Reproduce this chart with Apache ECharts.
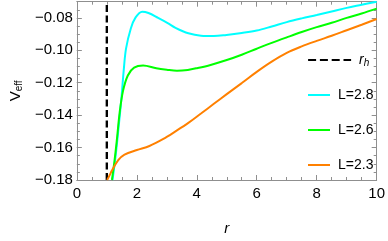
<!DOCTYPE html>
<html><head><meta charset="utf-8">
<script src="https://cdn.jsdelivr.net/npm/echarts@6/dist/echarts.min.js"></script>
<style>html,body{margin:0;padding:0;background:#fff}#c{width:388px;height:241px}</style>
</head><body><div id="c"></div>
<script>
// ---- data ----
const rhName = 'r_h';
const rhR = [1, 1];
const rhV = [-0.18, -0.07];

const nameL28 = 'L=2.8';
const rL28 = [1.19, 1.30, 1.40, 1.49, 1.56, 1.64, 1.80, 1.96, 2.18, 2.39, 2.71, 3.03, 3.29, 3.72, 4.14, 4.57, 4.99, 5.50, 6.00, 6.50, 7.00, 7.50, 8.00, 8.50, 9.00, 9.50, 10.0];
const vL28 = [-0.180, -0.164, -0.146, -0.129, -0.113, -0.099, -0.0865, -0.0797, -0.0762, -0.0770, -0.0800, -0.0832, -0.0861, -0.0895, -0.0910, -0.0912, -0.0905, -0.0893, -0.0878, -0.0853, -0.0826, -0.0803, -0.0782, -0.0760, -0.0738, -0.0719, -0.0700];

const nameL26 = 'L=2.6';
const rL26 = [1.17, 1.25, 1.33, 1.43, 1.54, 1.70, 1.91, 2.21, 2.65, 3.00, 3.34, 3.70, 4.03, 4.46, 5.00, 5.50, 6.00, 6.50, 7.00, 7.50, 8.00, 8.50, 9.00, 9.50, 10.0];
const vL26 = [-0.180, -0.169, -0.156, -0.138, -0.125, -0.1155, -0.1107, -0.1094, -0.1111, -0.1120, -0.1126, -0.1121, -0.1109, -0.1090, -0.1060, -0.1027, -0.0990, -0.0954, -0.0920, -0.0887, -0.0857, -0.0830, -0.0800, -0.0773, -0.0743];

const nameL23 = 'L=2.3';
const rL23 = [1.01, 1.10, 1.17, 1.38, 1.59, 2.00, 2.42, 2.87, 3.29, 3.72, 4.14, 4.57, 5.00, 5.50, 6.00, 6.50, 7.00, 7.50, 8.00, 8.50, 9.00, 9.50, 10.0];
const vL23 = [-0.180, -0.1768, -0.1742, -0.1677, -0.1643, -0.1615, -0.1590, -0.1548, -0.1500, -0.1448, -0.1390, -0.1330, -0.1270, -0.1202, -0.1133, -0.1070, -0.1016, -0.0976, -0.0942, -0.0910, -0.0876, -0.0842, -0.0807];

const xTicks = [0, 2, 4, 6, 8, 10];
const yTicks = [-0.18, -0.16, -0.14, -0.12, -0.10, -0.08];
const yMax = -0.07;
const yMinorStep = 0.005;

// ---- chart ----
const zip = (a, b) => a.map((v, i) => [v, b[i]]);
const FONT = '"Liberation Sans", Arial, Helvetica, sans-serif';
const FRAME = '#8f8f8f';
const xMin = xTicks[0], xMax = xTicks[xTicks.length - 1], xStep = xTicks[1] - xTicks[0];
const yMin = yTicks[0], yStep = +(yTicks[1] - yTicks[0]).toFixed(4);
const fmtY = v => (v < 0 ? '\u2212' : '') + Math.abs(v).toFixed(2);

const lineAxisCommon = { lineStyle: { color: FRAME, width: 1 } };
const chart = echarts.init(document.getElementById('c'), null, { renderer: 'canvas' });

function xAx(pos, labels) {
  return {
    type: 'value', position: pos, min: xMin, max: xMax, interval: xStep,
    axisLine: { show: true, onZero: false, ...lineAxisCommon },
    axisTick: { show: true, inside: true, length: 5, lineStyle: { color: FRAME } },
    minorTick: { show: true, splitNumber: 4, length: 3, lineStyle: { color: FRAME } },
    splitLine: { show: false },
    axisLabel: labels ? { show: true, margin: 6, color: '#000', fontSize: 15, fontFamily: FONT } : { show: false },
    name: labels ? 'r' : '', nameLocation: 'middle', nameGap: 41,
    nameTextStyle: { fontStyle: 'italic', fontSize: 15, color: '#000', fontFamily: FONT }
  };
}
function yAx(pos, labels, step, tickLen, showLine) {
  return {
    type: 'value', position: pos, min: yMin, max: yMax, interval: step,
    axisLine: { show: showLine, onZero: false, ...lineAxisCommon },
    axisTick: { show: true, inside: true, length: tickLen, lineStyle: { color: FRAME } },
    splitLine: { show: false },
    axisLabel: labels ? { show: true, margin: 4, color: '#000', fontSize: 15, fontFamily: FONT, formatter: fmtY, showMaxLabel: false } : { show: false },
    name: labels ? '{v|V}{e|eff}' : '', nameLocation: 'middle', nameGap: 50, nameRotate: 90,
    nameTextStyle: {
      color: '#000', fontFamily: FONT,
      rich: {
        v: { fontSize: 15, color: '#000', fontFamily: FONT },
        e: { fontSize: 10, color: '#000', fontFamily: FONT, padding: [7, 0, 0, 0] }
      }
    }
  };
}

const option = {
  animation: false,
  backgroundColor: '#fff',
  grid: { left: 65, right: 9, top: 1.7, bottom: 45.7, containLabel: false },
  xAxis: [xAx('bottom', true), xAx('top', false)],
  yAxis: [
    yAx('left', true, yStep, 5, true),
    yAx('right', false, yStep, 5, true),
    yAx('left', false, yMinorStep, 3, false),
    yAx('right', false, yMinorStep, 3, false)
  ],
  legend: [
    {
      data: [{ name: rhName }],
      orient: 'vertical', left: 302, top: 48,
      itemWidth: 43, itemHeight: 14,
      itemStyle: { opacity: 0 },
      lineStyle: { type: [8, 3.8], width: 2.2, color: '#000' },
      formatter: () => '{i|r}{s|h}',
      textStyle: {
        padding: [0, 0, 0, 3],
        rich: {
          i: { fontStyle: 'italic', fontSize: 14, color: '#000', fontFamily: FONT },
          s: { fontStyle: 'italic', fontSize: 10, color: '#000', fontFamily: FONT, padding: [7, 0, 0, 0] }
        }
      }
    },
    {
      data: [nameL28, nameL26, nameL23],
      orient: 'vertical', left: 302, top: 83,
      itemWidth: 22, itemHeight: 14, itemGap: 21,
      itemStyle: { opacity: 0 },
      textStyle: { fontSize: 14, color: '#000', fontFamily: FONT, padding: [0, 0, 0, 3] }
    }
  ],
  series: [
    {
      name: rhName, type: 'line', data: zip(rhR, rhV), symbol: 'none', showSymbol: false,
      lineStyle: { color: '#000', width: 2.4, type: [7, 3.5] }, itemStyle: { color: '#000' }
    },
    {
      name: nameL28, type: 'line', data: zip(rL28, vL28), symbol: 'none', smooth: 0.35,
      lineStyle: { color: '#00FFFF', width: 2 }, itemStyle: { color: '#00FFFF' }
    },
    {
      name: nameL26, type: 'line', data: zip(rL26, vL26), symbol: 'none', smooth: 0.35,
      lineStyle: { color: '#00FF00', width: 2 }, itemStyle: { color: '#00FF00' }
    },
    {
      name: nameL23, type: 'line', data: zip(rL23, vL23), symbol: 'none', smooth: 0.35,
      lineStyle: { color: '#FF8000', width: 2 }, itemStyle: { color: '#FF8000' }
    }
  ]
};
chart.setOption(option);
</script>
</body></html>
